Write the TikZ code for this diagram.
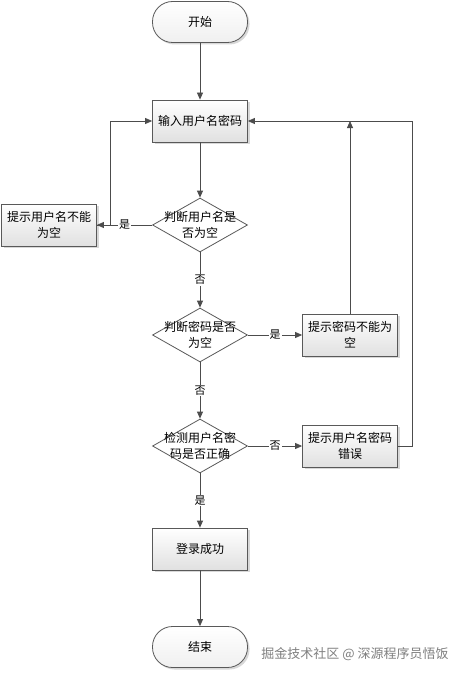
\documentclass[tikz,border=0pt]{standalone}
\usepackage{fontspec}
\setmainfont{Noto Sans CJK SC}
\usetikzlibrary{shapes.geometric,arrows.meta,shadows}

\begin{document}
\begin{tikzpicture}[x=1pt,y=-1pt,>={Triangle[length=7pt,width=6pt]},line join=miter,font=\fontsize{12}{16}\selectfont]
	\tikzset{
		box/.style={draw=black!65,line width=.8pt,top color=white,bottom color=black!12,
			minimum width=95pt,minimum height=42pt,inner sep=0pt,align=center,
			drop shadow={shadow xshift=2pt,shadow yshift=-2pt,fill=black!30}},
		term/.style={box,minimum height=41pt,rounded corners=20pt,bottom color=black!6},
		decision/.style={draw=black!65,line width=.8pt,fill=white,diamond,
			minimum width=95pt,minimum height=54pt,inner sep=0pt},
		dtext/.style={align=center,inner sep=0pt},
		line/.style={draw=black!70,line width=.8pt},
		lbl/.style={fill=white,inner sep=1pt,font=\fontsize{11}{13}\selectfont}
	}
	\fill[white] (0,0) rectangle (459,674);
	\useasboundingbox (0,0) rectangle (459,674);
	% nodes
	\node[term] (start) at (200,22) {开始};
	\node[box] (input) at (200,121) {输入用户名密码};
	\node[decision,label={[dtext]center:判断用户名是\\否为空}] (chkuser) at (200,225) {};
	\node[box] (tipuser) at (49,225) {提示用户名不能\\为空};
	\node[decision,label={[dtext]center:判断密码是否\\为空}] (chkpwd) at (200,335) {};
	\node[box] (tippwd) at (350,335) {提示密码不能为\\空};
	\node[decision,label={[dtext]center:检测用户名密\\码是否正确}] (chkall) at (200,446) {};
	\node[box] (tiperr) at (350,446) {提示用户名密码\\错误};
	\node[box] (ok) at (200,549) {登录成功};
	\node[term] (end) at (200,647) {结束};
	\node[text=black!50,font=\fontsize{13}{15}\selectfont] (mark) at (355,654) {掘金技术社区 @ 深源程序员悟饭};
	% connectors
	\draw[line,->] (start) -- (input);
	\draw[line,->] (input) -- (chkuser);
	\draw[line,->] (chkuser) -- node[lbl]{是} (tipuser);
	\draw[line,->] (tipuser.east) -- ++(13,0) |- (input.west);
	\draw[line,->] (chkuser) -- node[lbl]{否} (chkpwd);
	\draw[line,->] (chkpwd) -- node[lbl]{是} (tippwd);
	\draw[line,->] (tippwd) -- (tippwd.north |- input.east);
	\draw[line,->] (chkpwd) -- node[lbl]{否} (chkall);
	\draw[line,->] (chkall) -- node[lbl]{否} (tiperr);
	\draw[line,->] (tiperr.east) -- ++(14,0) |- (input.east);
	\draw[line,->] (chkall) -- node[lbl]{是} (ok);
	\draw[line,->] (ok) -- (end);
\end{tikzpicture}
\end{document}
